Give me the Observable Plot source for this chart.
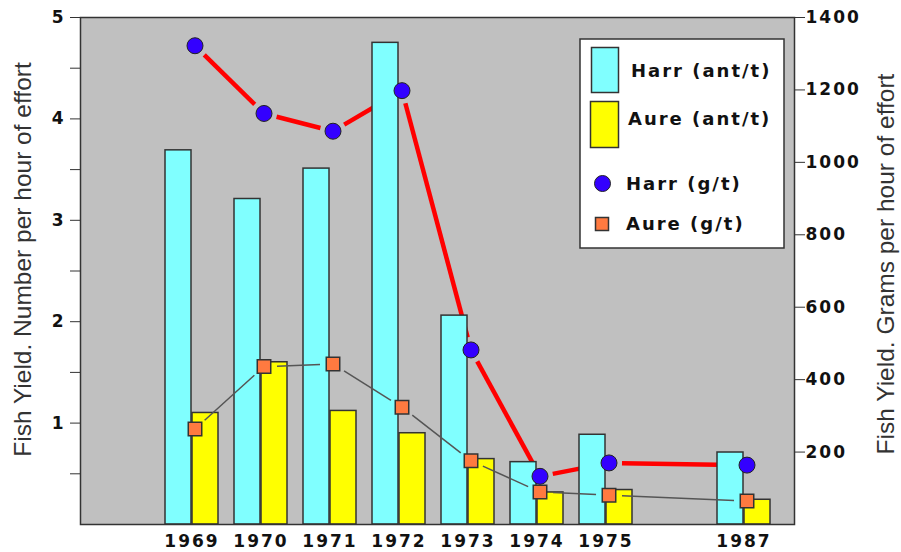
<!DOCTYPE html>
<html><head><meta charset="utf-8">
<script src="https://cdn.jsdelivr.net/npm/d3@7"></script>
<script src="https://cdn.jsdelivr.net/npm/@observablehq/plot@0.6"></script>
<style>
body{margin:0;background:#fff;}
#chart{width:901px;height:552px;}
g[aria-label$="tick label"] text{font-family:"DejaVu Sans",sans-serif;font-weight:bold;font-size:17px;letter-spacing:2px;fill:#111;}
.legend text{font-family:"DejaVu Sans",sans-serif;font-weight:bold;font-size:18px;letter-spacing:2px;fill:#111;text-anchor:start;}
</style></head><body><div id="chart"></div>
<script>
// ---- data ----
const years   = ["1969","1970","1971","1972","1973","1974","1975","1987"];
const xSlots  = ["1969","1970","1971","1972","1973","1974","1975","","1987"]; // empty slot = break before 1987
const harrAnt = [3.69, 3.21, 3.51, 4.75, 2.06, 0.615, 0.885, 0.71];   // left axis
const aureAnt = [1.10, 1.60, 1.12, 0.90, 0.645, 0.316, 0.34, 0.244];  // left axis
const harrG   = [1322, 1135, 1086, 1198, 482, 133, 170, 164];         // right axis
const aureG   = [264, 436, 443, 324, 176, 90, 81, 65];                // right axis
const leftTicks  = [0.5,1,1.5,2,2.5,3,3.5,4,4.5,5];
const rightTicks = [200,400,600,800,1000,1200,1400];
const leftMax = 5, rightMax = 1400;
const leftTitle  = "Fish Yield. Number per hour of effort";
const rightTitle = "Fish Yield. Grams per hour of effort";
const legendLabels = ["Harr (ant/t)","Aure (ant/t)","Harr (g/t)","Aure (g/t)"];

const k = rightMax / leftMax; // grams -> left units
const rows = years.map((y, i) => ({year: y, harrAnt: harrAnt[i], aureAnt: aureAnt[i], harrG: harrG[i], aureG: aureG[i]}));
const segs = rows.slice(1).map((d, i) => ({a: rows[i], b: d}));

const plot = Plot.plot({
  width: 901, height: 552,
  marginLeft: 80, marginRight: 107, marginTop: 17, marginBottom: 28,
  style: {background: "transparent", overflow: "visible"},
  x: {type: "band", domain: xSlots, paddingInner: 0, paddingOuter: 0.607, align: 0.828},
  y: {domain: [0, leftMax]},
  marks: [
    Plot.frame({fill: "#c0c0c0"}),
    Plot.arrow(segs, {x1: d => d.a.year, y1: d => d.a.harrG / k, x2: d => d.b.year, y2: d => d.b.harrG / k,
      stroke: "#ff0000", strokeWidth: 4.5, strokeLinecap: "butt", headLength: 0, insetStart: 13, insetEnd: 13, dx: 3}),
    Plot.barY(rows, {x: "year", y: "harrAnt", fill: "#80ffff", stroke: "#333", strokeWidth: 1.5, insetLeft: 8, insetRight: 35}),
    Plot.barY(rows, {x: "year", y: "aureAnt", fill: "#ffff00", stroke: "#333", strokeWidth: 1.5, insetLeft: 35, insetRight: 8}),
    Plot.arrow(segs, {x1: d => d.a.year, y1: d => d.a.aureG / k, x2: d => d.b.year, y2: d => d.b.aureG / k,
      stroke: "#555", strokeWidth: 1.5, strokeLinecap: "butt", headLength: 0, insetStart: 13, insetEnd: 13, dx: 3}),
    Plot.dot(rows, {x: "year", y: d => d.harrG / k, r: 8, fill: "#3300ff", stroke: "#222", strokeWidth: 1, dx: 3}),
    Plot.dot(rows, {x: "year", y: d => d.aureG / k, symbol: "square", r: 7.6, fill: "#ff7a40", stroke: "#333", strokeWidth: 1.5, dx: 3}),
    Plot.frame({stroke: "#333", strokeWidth: 1.5}),
    Plot.axisX({ticks: years, tickSize: 0, tickPadding: 10, label: null}),
    Plot.axisY({ticks: leftTicks, tickSize: 10, tickPadding: 5, tickFormat: d => Number.isInteger(d) ? String(d) : "", label: null, stroke: "#333"}),
    Plot.axisY({anchor: "right", ticks: rightTicks.map(v => v / k), tickSize: 10, tickPadding: 1,
      tickFormat: d => String(Math.round(d * k)), label: null, stroke: "#333"}),
    Plot.text([leftTitle], {frameAnchor: "left", textAnchor: "middle", dx: -57, dy: -11.5, rotate: -90, fontSize: 24.5,
      fontFamily: "Liberation Sans, Arial, sans-serif", fill: "#333"}),
    Plot.text([rightTitle], {frameAnchor: "right", textAnchor: "middle", dx: 92, dy: -7, rotate: -90, fontSize: 24.5,
      fontFamily: "Liberation Sans, Arial, sans-serif", fill: "#333"})
  ]
});
document.getElementById("chart").appendChild(plot);

// ---- legend (inside the plot area, top right) ----
const svg = d3.select(plot);
const lg = svg.append("g").attr("class", "legend");
lg.append("rect").attr("x", 580).attr("y", 39).attr("width", 204).attr("height", 209)
  .attr("fill", "#fff").attr("stroke", "#333").attr("stroke-width", 1.5);
lg.append("rect").attr("x", 591.5).attr("y", 47.5).attr("width", 27).attr("height", 45)
  .attr("fill", "#80ffff").attr("stroke", "#333").attr("stroke-width", 1.5);
lg.append("rect").attr("x", 590.5).attr("y", 101.5).attr("width", 28).attr("height", 46)
  .attr("fill", "#ffff00").attr("stroke", "#333").attr("stroke-width", 1.5);
lg.append("circle").attr("cx", 602.5).attr("cy", 183.5).attr("r", 8)
  .attr("fill", "#3300ff").attr("stroke", "#222");
lg.append("rect").attr("x", 595.5).attr("y", 217.5).attr("width", 13).attr("height", 13)
  .attr("fill", "#ff7a40").attr("stroke", "#333").attr("stroke-width", 1.5);
const lpos = [[631, 77], [628, 125], [626, 190], [626, 230]];
legendLabels.forEach((t, i) => lg.append("text").attr("x", lpos[i][0]).attr("y", lpos[i][1]).text(t));
</script></body></html>
